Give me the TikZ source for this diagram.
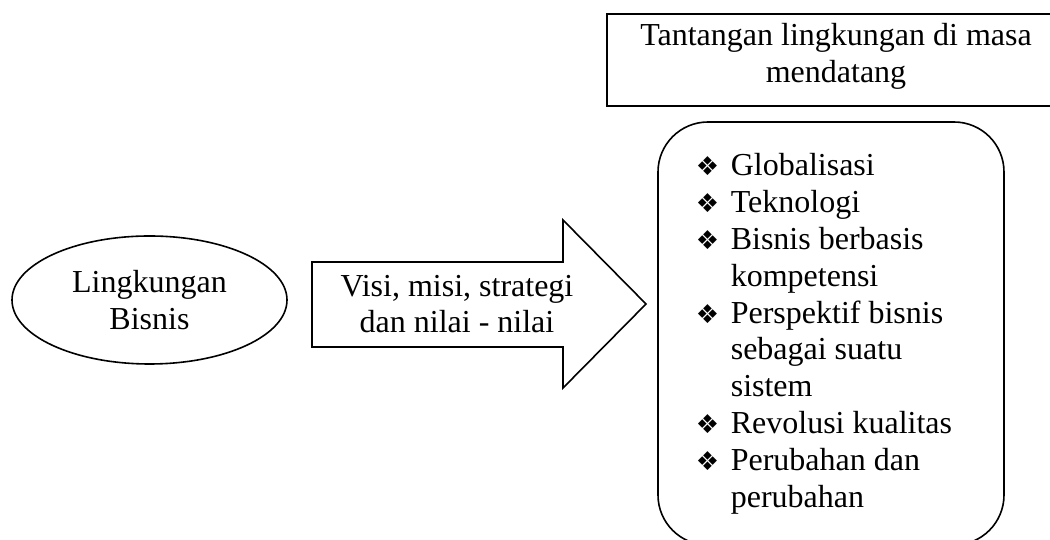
\documentclass[tikz,border=0pt]{standalone}
\usepackage{fontspec}
\setmainfont{Liberation Serif}
\newfontfamily\symfont{DejaVu Sans}
\newcommand{\bul}{\makebox[17.5pt][l]{\symfont\fontsize{13}{13}\selectfont\char"2756}}
\usetikzlibrary{shapes.geometric}

\begin{document}
\begin{tikzpicture}[x=0.5pt,y=0.5pt,line width=0.8pt,
   every node/.style={font=\fontsize{16}{18.4}\selectfont},
   kotak/.style={draw,rectangle,align=center,inner sep=0pt},
   lonjong/.style={draw,ellipse,align=center,inner sep=0pt}]
\useasboundingbox (0,0) rectangle (1050,540);
\clip (0,0) rectangle (1050,540);
\node[lonjong,minimum width=137.5pt,minimum height=64pt] (bisnis) at (149.5,240) {Lingkungan\\Bisnis};
% panah besar
\draw (312,278) -- (563,278) -- (563,320) -- (646,236) -- (563,152) -- (563,193) -- (312,193) -- cycle;
\node[align=center] (visi) at (457,236) {Visi, misi, strategi\\dan nilai - nilai};
\node[kotak,minimum width=229pt,minimum height=46pt] (tantangan) at (836,480) {};
\node[align=center] (judul) at (836,484) {Tantangan lingkungan di masa\\mendatang};
\node[kotak,rounded corners=25pt,minimum width=173pt,minimum height=211.5pt] (daftar) at (831,206.5) {};
\node[anchor=base west,inner sep=0pt] (isi) at (695,364) {\begin{tabular}[t]{@{}l@{}l@{}}
  \bul & Globalisasi\\
  \bul & Teknologi\\
  \bul & Bisnis berbasis\\
       & kompetensi\\
  \bul & Perspektif bisnis\\
       & sebagai suatu\\
       & sistem\\
  \bul & Revolusi kualitas\\
  \bul & Perubahan dan\\
       & perubahan
\end{tabular}};
\end{tikzpicture}
\end{document}
